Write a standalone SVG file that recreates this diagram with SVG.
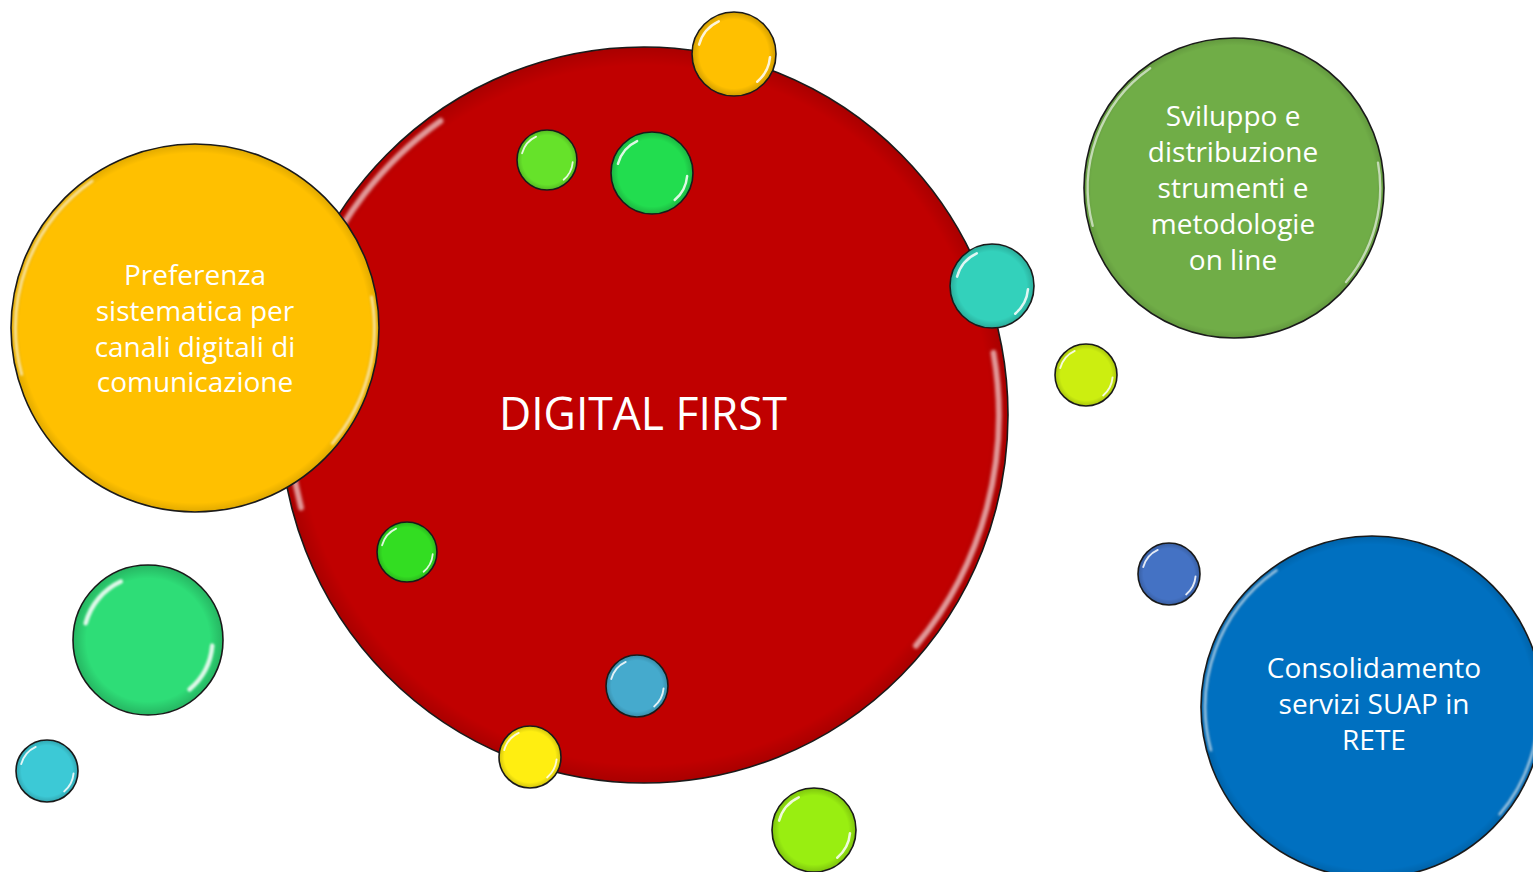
<svg xmlns="http://www.w3.org/2000/svg" xmlns:xlink="http://www.w3.org/1999/xlink" width="1533" height="872" viewBox="0 0 1533 872">
<style>
.b{stroke:#1c1c1c;stroke-width:1.6}
.lbl{font-family:"Open Sans","Noto Sans",sans-serif;fill:#ffffff;text-anchor:middle;font-size:28px}
.title{font-family:"Open Sans","Noto Sans",sans-serif;fill:#ffffff;text-anchor:middle;font-size:46px}
</style>
<defs>
<filter id="bl" x="-20%" y="-20%" width="140%" height="140%"><feGaussianBlur stdDeviation="0.012"/></filter>
<filter id="blL" x="-20%" y="-20%" width="140%" height="140%"><feGaussianBlur stdDeviation="0.005"/></filter>
<radialGradient id="edge" cx="0" cy="0" r="1" gradientUnits="userSpaceOnUse">
<stop offset="0.82" stop-color="#000" stop-opacity="0"/>
<stop offset="1" stop-color="#000" stop-opacity="0.18"/>
</radialGradient>
<radialGradient id="edgeL" cx="0" cy="0" r="1" gradientUnits="userSpaceOnUse">
<stop offset="0.95" stop-color="#000" stop-opacity="0"/>
<stop offset="1" stop-color="#000" stop-opacity="0.12"/>
</radialGradient>
<g id="gloss">
<circle r="1" fill="url(#edge)"/>
<g filter="url(#bl)" fill="none" stroke="#ffffff" stroke-linecap="round" stroke-opacity="0.85" stroke-width="0.06">
<path d="M -0.831 -0.223 A 0.86 0.86 0 0 1 -0.363 -0.779"/>
<path d="M 0.857 0.075 A 0.86 0.86 0 0 1 0.553 0.659"/>
</g>
</g>
<g id="glossL">
<circle r="1" fill="url(#edgeL)"/>
<g filter="url(#blL)" fill="none" stroke="#ffffff" stroke-linecap="round" stroke-opacity="0.6" stroke-width="0.016">
<path d="M -0.942 0.252 A 0.975 0.975 0 0 1 -0.559 -0.799"/>
<path d="M 0.960 -0.169 A 0.975 0.975 0 0 1 0.747 0.627"/>
</g>
</g>
</defs>
<rect width="1533" height="872" fill="#ffffff"/>
<g id="connectors"></g>

<g id="digital-first">
<ellipse class="b" cx="644" cy="415" rx="364" ry="368" fill="#C00000"/>
<use xlink:href="#glossL" href="#glossL" transform="translate(644,415) scale(364,368)"/>
<text class="title" x="643" y="430" textLength="288" lengthAdjust="spacingAndGlyphs">DIGITAL FIRST</text>
</g>

<g id="preferenza">
<circle class="b" cx="195" cy="328" r="184" fill="#FFC000"/>
<use xlink:href="#glossL" href="#glossL" transform="translate(195,328) scale(184)"/>
<text class="lbl" x="195" y="285">Preferenza</text>
<text class="lbl" x="195" y="321">sistematica per</text>
<text class="lbl" x="195" y="357">canali digitali di</text>
<text class="lbl" x="195" y="392">comunicazione</text>
</g>

<g id="sviluppo">
<circle class="b" cx="1234" cy="188" r="150" fill="#70AD47"/>
<use xlink:href="#glossL" href="#glossL" transform="translate(1234,188) scale(150)"/>
<text class="lbl" x="1233" y="126">Sviluppo e</text>
<text class="lbl" x="1233" y="162">distribuzione</text>
<text class="lbl" x="1233" y="198">strumenti e</text>
<text class="lbl" x="1233" y="234">metodologie</text>
<text class="lbl" x="1233" y="270">on line</text>
</g>

<g id="consolidamento">
<circle class="b" cx="1372" cy="707" r="171" fill="#0070C0"/>
<use xlink:href="#glossL" href="#glossL" transform="translate(1372,707) scale(171)"/>
<text class="lbl" x="1374" y="678">Consolidamento</text>
<text class="lbl" x="1374" y="714">servizi SUAP in</text>
<text class="lbl" x="1374" y="750">RETE</text>
</g>

<g id="bubble-orange">
<circle class="b" cx="734" cy="54" r="42" fill="#FFC000"/>
<use xlink:href="#gloss" href="#gloss" transform="translate(734,54) scale(42)"/>
</g>
<g id="bubble-lightgreen">
<circle class="b" cx="547" cy="160" r="30" fill="#66E22A"/>
<use xlink:href="#gloss" href="#gloss" transform="translate(547,160) scale(30)"/>
</g>
<g id="bubble-green">
<circle class="b" cx="652" cy="173" r="41" fill="#22DD4F"/>
<use xlink:href="#gloss" href="#gloss" transform="translate(652,173) scale(41)"/>
</g>
<g id="bubble-teal">
<circle class="b" cx="992" cy="286" r="42" fill="#33D1BB"/>
<use xlink:href="#gloss" href="#gloss" transform="translate(992,286) scale(42)"/>
</g>
<g id="bubble-yellowgreen">
<circle class="b" cx="1086" cy="375" r="31" fill="#CCEE10"/>
<use xlink:href="#gloss" href="#gloss" transform="translate(1086,375) scale(31)"/>
</g>
<g id="bubble-blue">
<circle class="b" cx="1169" cy="574" r="31" fill="#4472C4"/>
<use xlink:href="#gloss" href="#gloss" transform="translate(1169,574) scale(31)"/>
</g>
<g id="bubble-green2">
<circle class="b" cx="407" cy="552" r="30" fill="#33DD22"/>
<use xlink:href="#gloss" href="#gloss" transform="translate(407,552) scale(30)"/>
</g>
<g id="bubble-emerald">
<circle class="b" cx="148" cy="640" r="75" fill="#2EDD77"/>
<use xlink:href="#gloss" href="#gloss" transform="translate(148,640) scale(75)"/>
</g>
<g id="bubble-cyan">
<circle class="b" cx="47" cy="771" r="31" fill="#3CC9D6"/>
<use xlink:href="#gloss" href="#gloss" transform="translate(47,771) scale(31)"/>
</g>
<g id="bubble-skyblue">
<circle class="b" cx="637" cy="686" r="31" fill="#45AACD"/>
<use xlink:href="#gloss" href="#gloss" transform="translate(637,686) scale(31)"/>
</g>
<g id="bubble-yellow">
<circle class="b" cx="530" cy="757" r="31" fill="#FFEE11"/>
<use xlink:href="#gloss" href="#gloss" transform="translate(530,757) scale(31)"/>
</g>
<g id="bubble-lime">
<circle class="b" cx="814" cy="830" r="42" fill="#99EE11"/>
<use xlink:href="#gloss" href="#gloss" transform="translate(814,830) scale(42)"/>
</g>
</svg>
